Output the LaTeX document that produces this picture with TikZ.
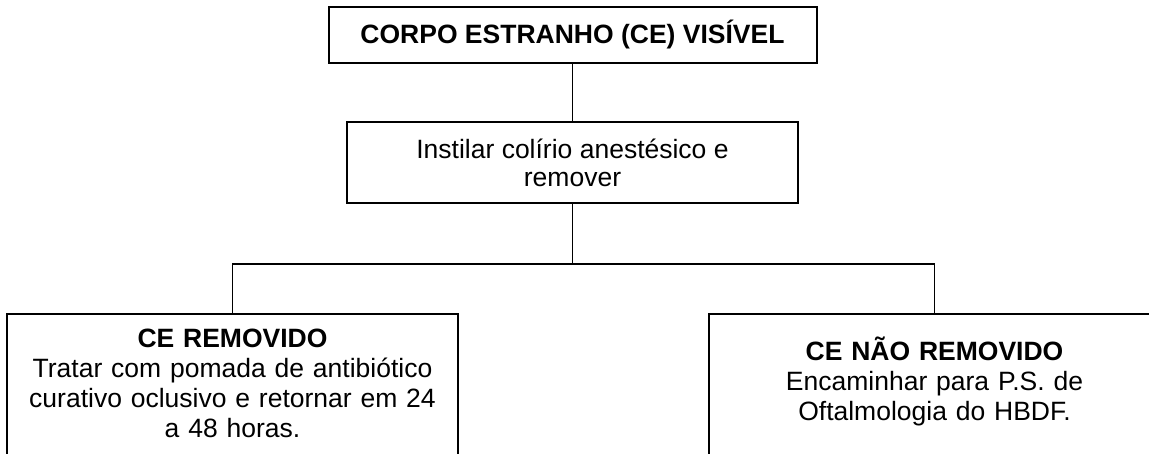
\documentclass[tikz,border=0pt]{standalone}
\usepackage{fontspec}
\setmainfont{Liberation Sans}

\begin{document}
\begin{tikzpicture}[x=1pt,y=-1pt,
    box/.style={draw, line width=2pt, align=center, inner xsep=0pt},
    link/.style={line width=1.3pt}]
    % Frame
    \useasboundingbox (0,0) rectangle (1149,453);
    \clip (0,0) rectangle (1149,453);
    
    % Top box
    \node[box, minimum width=488pt, minimum height=56pt,
          font=\fontsize{26.5}{30}\selectfont\bfseries] (corpo) at (572.5,35)
          {CORPO ESTRANHO (CE) VISÍVEL};
    
    % Middle box
    \node[box, minimum width=451pt, minimum height=81pt,
          font=\fontsize{26.5}{28}\selectfont] (instilar) at (572.5,162.5)
          {Instilar colírio anestésico e\\remover};
    
    % Bottom boxes (cut off by the frame)
    \node[box, anchor=north, text width=451pt, inner ysep=15pt, text depth=140pt,
          font=\fontsize{26.5}{30}\selectfont] (removido) at (232.5,313)
          {\textbf{CE REMOVIDO}\\Tratar com pomada de antibiótico\\curativo oclusivo e retornar em 24\\a 48 horas.};
    \node[box, anchor=north, text width=451pt, inner ysep=23pt, text depth=140pt,
          font=\fontsize{26.5}{30}\selectfont] (naoremovido) at (934.5,313)
          {\textbf{CE NÃO REMOVIDO}\\Encaminhar para P.S. de\\Oftalmologia do HBDF.};
    
    % Connectors
    \coordinate (fork) at (572.5,264);
    \draw[link] (corpo) -- (instilar);
    \draw[link] (instilar) -- (fork);
    \draw[link] (removido.north) |- (fork) -| (naoremovido.north);
\end{tikzpicture}
\end{document}
